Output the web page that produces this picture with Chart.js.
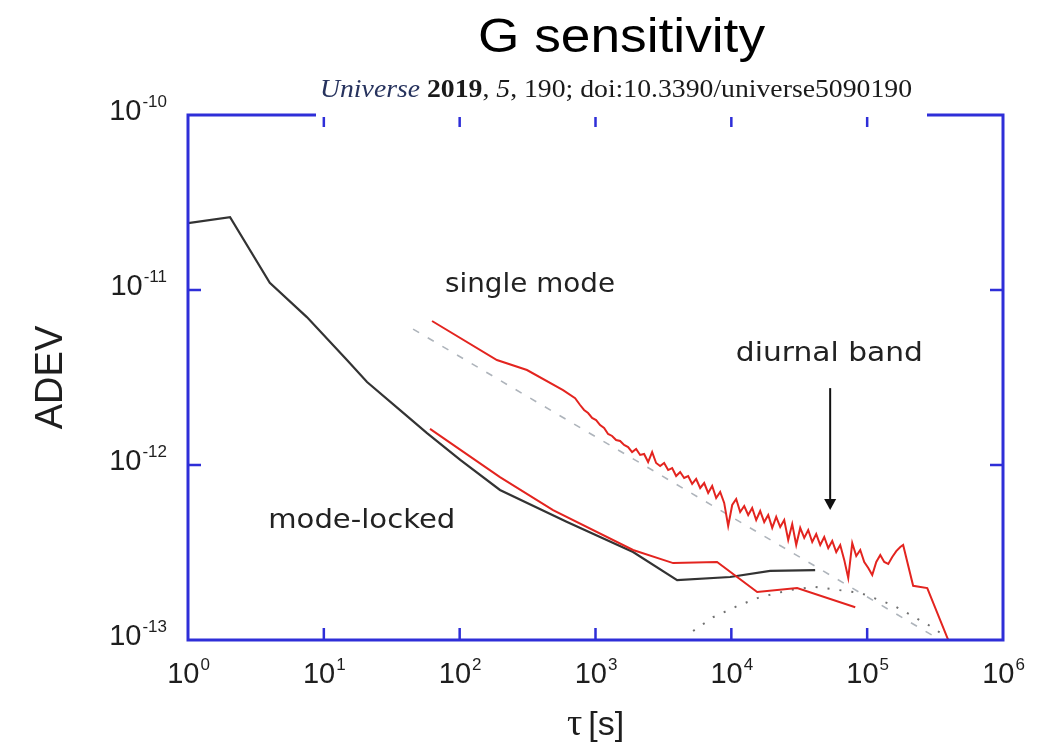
<!DOCTYPE html>
<html>
<head>
<meta charset="utf-8">
<title>G sensitivity</title>
<script src="https://cdn.jsdelivr.net/npm/chart.js@4.4.0/dist/chart.umd.min.js"></script>
<style>
  html, body { margin: 0; padding: 0; background: #fff; }
  #wrap { position: relative; width: 1050px; height: 747px; }
</style>
</head>
<body>
<div id="wrap"><canvas id="chart"></canvas></div>
<script>
// ---- data (tau in s, ADEV dimensionless) ----

const xTicks = [1, 10, 100, 1e3, 1e4, 1e5, 1e6];
const xTickExp = ['0', '1', '2', '3', '4', '5', '6'];
const yTicks = [1e-13, 1e-12, 1e-11, 1e-10];
const yTickExp = ['-13', '-12', '-11', '-10'];

// mode-locked (black)
const tauLocked = [1, 2.04, 4.0, 7.5, 14.8, 20.8, 36.4, 57.5, 101, 198, 618, 1890, 3990, 9800, 19300, 41400];
const adevLocked = [2.41e-11, 2.61e-11, 1.10e-11, 7.0e-12, 3.98e-12, 2.98e-12, 2.06e-12, 1.52e-12, 1.07e-12,
  7.2e-13, 4.72e-13, 3.18e-13, 2.20e-13, 2.29e-13, 2.48e-13, 2.51e-13];

// lower red curve
const tauLockedRed = [60.5, 198, 487, 1890, 3730, 7850, 15500, 30500, 81700];
const adevLockedRed = [1.61e-12, 8.53e-13, 5.53e-13, 3.27e-13, 2.75e-13, 2.79e-13, 1.88e-13, 1.98e-13, 1.54e-13];

// single mode (upper red, noisy)
const tauSingle = [62.6, 188, 313, 577, 708,
  770, 824, 882, 944, 1010, 1081, 1157, 1238, 1325, 1418,
  1518, 1624, 1738, 1860, 1991, 2131, 2280, 2440, 2612, 2795,
  2991, 3201, 3426, 3667, 3924, 4200, 4494, 4810, 5148, 5509,
  5896, 6310, 6753, 7227, 7734, 8277, 8858, 9480, 10150, 10860,
  11620, 12440, 13310, 14240, 15240, 16310, 17460, 18680, 20000, 21400,
  22900, 24510, 26230, 28070, 30040, 32150, 34410, 36820, 39400, 42170,
  45130, 48300, 51690, 55320, 59200, 63350, 67800, 72560, 77650, 83100,
  88940, 95180, 101900, 109000, 116700, 124900, 133600, 143000, 153000, 163800,
  175300, 184000, 218000, 277000, 408000];
const adevSingle = [6.65e-12, 3.98e-12, 3.49e-12, 2.68e-12, 2.41e-12,
  2.202e-12, 2.062e-12, 1.982e-12, 1.856e-12, 1.807e-12, 1.692e-12, 1.627e-12, 1.504e-12, 1.465e-12, 1.389e-12,
  1.371e-12, 1.301e-12, 1.267e-12, 1.186e-12, 1.234e-12, 1.141e-12, 1.156e-12, 1.040e-12, 1.186e-12, 1.027e-12,
  9.87e-13, 1.027e-12, 9.36e-13, 9.61e-13, 8.65e-13, 9.12e-13, 8.43e-13, 8.65e-13, 7.79e-13, 8.32e-13,
  7.39e-13, 7.89e-13, 6.92e-13, 7.59e-13, 6.48e-13, 7.01e-13, 6.07e-13, 4.48e-13, 5.91e-13, 6.39e-13,
  5.39e-13, 5.83e-13, 5.18e-13, 5.68e-13, 4.85e-13, 5.46e-13, 4.72e-13, 5.18e-13, 4.37e-13, 5.05e-13,
  4.42e-13, 4.85e-13, 3.73e-13, 4.60e-13, 3.49e-13, 4.37e-13, 3.83e-13, 4.25e-13, 3.63e-13, 4.03e-13,
  3.49e-13, 3.88e-13, 3.35e-13, 3.68e-13, 3.18e-13, 3.49e-13, 2.87e-13, 2.26e-13, 3.58e-13, 3.02e-13,
  3.27e-13, 2.79e-13, 2.58e-13, 2.35e-13, 2.79e-13, 3.06e-13, 2.79e-13, 2.72e-13, 2.98e-13, 3.22e-13,
  3.40e-13, 3.49e-13, 2.04e-13, 1.98e-13, 9.4e-14];

// white-noise guide (gray dashed)
const tauGuide = [45.4, 400000];
const adevGuide = [5.98e-12, 9.35e-14];

// diurnal model (gray dotted)
const tauDiurnal = [5230, 7350, 11000, 16300, 27100, 41400, 88700, 155000, 277000, 345000, 395000];
const adevDiurnal = [1.125e-13, 1.35e-13, 1.56e-13, 1.76e-13, 1.93e-13, 2.01e-13, 1.86e-13, 1.58e-13, 1.23e-13, 1.10e-13, 1.0e-13];

// annotations: [text, tau at left edge, adev at middle, width px]
const labels = [
  ['single mode', 78, 1.1e-11, 170],
  ['diurnal band', 10800, 4.43e-12, 187],
  ['mode-locked', 3.9, 4.9e-13, 187],
];
const arrowTau = 53400;
const arrowFrom = 2.75e-12;
const arrowTo = 5.53e-13;

// ---- styling ----

const colors = {
  axis: '#2e2ed8',
  black: '#333333',
  red: '#e3241f',
  guide: '#aeb4bb',
  dotted: '#707070',
  text: '#1e1e1e',
};
const sans = '"Liberation Sans", Arial, sans-serif';
const serif = '"Liberation Serif", "Times New Roman", serif';

function zip(xs, ys) {
  return xs.map((x, i) => ({ x, y: ys[i] }));
}

// draw text stretched to a given width
function fitText(ctx, text, x, y, width, font) {
  ctx.font = font;
  const w = ctx.measureText(text).width;
  ctx.save();
  ctx.translate(x, y);
  ctx.scale(width / w, 1);
  ctx.fillText(text, 0, 0);
  ctx.restore();
}

function power(ctx, exp) {
  ctx.font = '29px ' + sans;
  const w1 = ctx.measureText('10').width;
  ctx.font = '17px ' + sans;
  const w2 = ctx.measureText(exp).width;
  return { w1, w2, w: w1 + w2 };
}

function drawPower(ctx, exp, left, base) {
  const m = power(ctx, exp);
  ctx.font = '29px ' + sans;
  ctx.fillText('10', left, base);
  ctx.font = '17px ' + sans;
  ctx.fillText(exp, left + m.w1 + 1, base - 13);
}

const overlay = {
  id: 'overlay',
  afterDatasetsDraw(chart) {
    const { ctx, chartArea: a, scales: { x, y } } = chart;
    ctx.save();

    // frame and inward ticks
    ctx.strokeStyle = colors.axis;
    ctx.lineWidth = 3;
    ctx.strokeRect(a.left, a.top, a.right - a.left, a.bottom - a.top);
    ctx.lineWidth = 2.5;
    ctx.beginPath();
    xTicks.slice(1, -1).forEach(v => {
      const px = x.getPixelForValue(v);
      ctx.moveTo(px, a.bottom); ctx.lineTo(px, a.bottom - 12);
      ctx.moveTo(px, a.top); ctx.lineTo(px, a.top + 12);
    });
    yTicks.slice(1, -1).forEach(v => {
      const py = y.getPixelForValue(v);
      ctx.moveTo(a.left, py); ctx.lineTo(a.left + 13, py);
      ctx.moveTo(a.right, py); ctx.lineTo(a.right - 13, py);
    });
    ctx.stroke();

    // tick labels
    ctx.fillStyle = colors.text;
    ctx.textBaseline = 'alphabetic';
    ctx.textAlign = 'left';
    xTicks.forEach((v, i) => {
      const px = x.getPixelForValue(v);
      const m = power(ctx, xTickExp[i]);
      drawPower(ctx, xTickExp[i], px - m.w / 2, a.bottom + 43);
    });
    yTicks.forEach((v, i) => {
      const py = y.getPixelForValue(v);
      const m = power(ctx, yTickExp[i]);
      drawPower(ctx, yTickExp[i], a.left - 22 - m.w, py + 5);
    });

    // axis titles
    ctx.save();
    ctx.translate(a.left - 140, (a.top + a.bottom) / 2);
    ctx.rotate(-Math.PI / 2);
    ctx.textAlign = 'center';
    ctx.font = '38px ' + sans;
    ctx.fillText('ADEV', 0, 14);
    ctx.restore();

    ctx.font = '38px ' + serif;
    const wt = ctx.measureText('\u03c4').width;
    ctx.font = '34px ' + sans;
    const ws = ctx.measureText('[s]').width;
    const cx = (a.left + a.right) / 2;
    const tx = cx - (wt + 6 + ws) / 2;
    ctx.font = '38px ' + serif;
    ctx.fillText('\u03c4', tx, a.bottom + 95);
    ctx.font = '34px ' + sans;
    ctx.fillText('[s]', tx + wt + 6, a.bottom + 95);

    // annotations
    ctx.fillStyle = '#222';
    labels.forEach(([t, lx, ly, w]) => {
      fitText(ctx, t, x.getPixelForValue(lx), y.getPixelForValue(ly) + 9, w, '27px "DejaVu Sans", sans-serif');
    });

    // arrow
    const ax = x.getPixelForValue(arrowTau);
    const ay0 = y.getPixelForValue(arrowFrom);
    const ay1 = y.getPixelForValue(arrowTo);
    ctx.strokeStyle = '#111';
    ctx.lineWidth = 2;
    ctx.beginPath();
    ctx.moveTo(ax, ay0); ctx.lineTo(ax, ay1 - 8);
    ctx.stroke();
    ctx.fillStyle = '#111';
    ctx.beginPath();
    ctx.moveTo(ax - 6, ay1 - 11); ctx.lineTo(ax + 6, ay1 - 11); ctx.lineTo(ax, ay1);
    ctx.closePath();
    ctx.fill();

    // citation box over the top edge
    ctx.fillStyle = '#fff';
    ctx.fillRect(316, 60, 611, a.top + 2 - 60);
    const parts = [
      ['Universe', 'italic 26px ' + serif, '#27335e'],
      [' 2019', 'bold 26px ' + serif, '#1a1a1a'],
      [', ', '26px ' + serif, '#1a1a1a'],
      ['5', 'italic 26px ' + serif, '#1a1a1a'],
      [', 190; doi:10.3390/universe5090190', '26px ' + serif, '#1a1a1a'],
    ];
    let total = 0;
    parts.forEach(p => { ctx.font = p[1]; total += ctx.measureText(p[0]).width; });
    const k = 592 / total;
    ctx.save();
    ctx.translate(320, 97);
    ctx.scale(k, 1);
    let off = 0;
    parts.forEach(p => {
      ctx.font = p[1];
      ctx.fillStyle = p[2];
      ctx.fillText(p[0], off, 0);
      off += ctx.measureText(p[0]).width;
    });
    ctx.restore();

    // title
    ctx.fillStyle = '#000';
    ctx.textAlign = 'left';
    fitText(ctx, 'G sensitivity', 478, 52, 287, '48px ' + sans);

    ctx.restore();
  },
};

new Chart(document.getElementById('chart'), {
  type: 'line',
  data: {
    datasets: [
      { data: zip(tauSingle, adevSingle), borderColor: colors.red, borderWidth: 2, order: 1 },
      { data: zip(tauLockedRed, adevLockedRed), borderColor: colors.red, borderWidth: 2, order: 1 },
      { data: zip(tauLocked, adevLocked), borderColor: colors.black, borderWidth: 2.2, order: 2 },
      { data: zip(tauGuide, adevGuide), borderColor: colors.guide, borderWidth: 1.6, borderDash: [7, 10], order: 3 },
      { data: zip(tauDiurnal, adevDiurnal), borderColor: colors.dotted, borderWidth: 2, borderDash: [2, 10], order: 3 },
    ],
  },
  options: {
    responsive: true,
    maintainAspectRatio: false,
    animation: false,
    events: [],
    layout: { padding: { left: 188, right: 47, top: 115, bottom: 107 } },
    elements: {
      line: { tension: 0, fill: false },
      point: { radius: 0 },
    },
    plugins: {
      legend: { display: false },
      tooltip: { enabled: false },
    },
    scales: {
      x: { type: 'logarithmic', min: 1, max: 1e6, display: false },
      y: { type: 'logarithmic', min: 1e-13, max: 1e-10, display: false },
    },
  },
  plugins: [overlay],
});
</script>
</body>
</html>
